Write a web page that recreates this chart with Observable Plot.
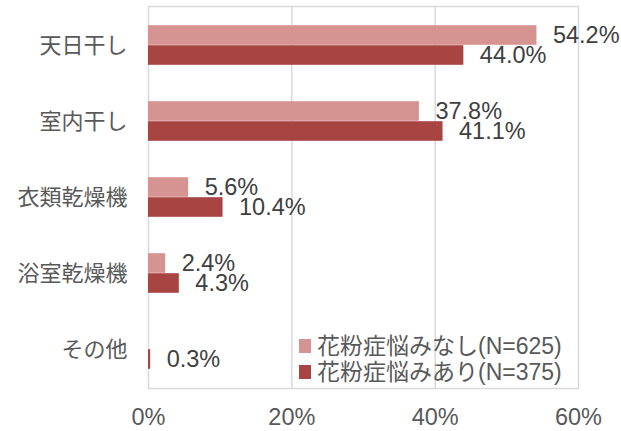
<!DOCTYPE html>
<html><head><meta charset="utf-8">
<script src="https://cdn.jsdelivr.net/npm/d3@7"></script>
<script src="https://cdn.jsdelivr.net/npm/@observablehq/plot@0.6"></script>
<style>
body{margin:0;background:#fff;}
#wrap{position:relative;width:621px;height:431px;font-family:"Liberation Sans","Noto Sans CJK JP",sans-serif;}
.legend{position:absolute;left:299px;top:333px;font-size:23px;color:#595959;line-height:26px;}
.legend div{display:flex;align-items:center;white-space:nowrap;}
.legend span.sw{display:inline-block;width:12px;height:14px;margin-right:6px;}
</style></head>
<body><div id="wrap"></div>
<script>
const categories = ["天日干し","室内干し","衣類乾燥機","浴室乾燥機","その他"];
const seriesNames = ["花粉症悩みなし(N=625)","花粉症悩みあり(N=375)"];
const seriesColors = ["#d59391","#a84543"];
const valuesNone = [54.2, 37.8, 5.6, 2.4, null];
const valuesWith = [44.0, 41.1, 10.4, 4.3, 0.3];
const xTicks = [0, 20, 40, 60];

const rowsNone = categories.map((c,i)=>({cat:c, v:valuesNone[i]})).filter(d=>d.v!=null);
const rowsWith = categories.map((c,i)=>({cat:c, v:valuesWith[i]})).filter(d=>d.v!=null);

const W=621,H=431,mT=6,mB=43,mL=148,mR=43;
const bw=(H-mT-mB)/categories.length;
const barH=20;
const fontFam='"Liberation Sans","Noto Sans CJK JP",sans-serif';

const chart = Plot.plot({
  width:W,height:H,marginTop:mT,marginBottom:mB,marginLeft:mL,marginRight:mR,
  style:{fontFamily:fontFam,fontSize:"22px",color:"#595959",background:"#fff"},
  x:{domain:[0,60],ticks:xTicks,tickFormat:d=>d+"%",tickSize:0,tickPadding:20,label:null},
  y:{domain:categories,padding:0,tickSize:0,tickPadding:21,label:null},
  marks:[
    Plot.gridX(xTicks.filter(t=>t>0&&t<60),{stroke:"#d9d9d9",strokeOpacity:1,strokeWidth:1.5}),
    Plot.frame({stroke:"#d9d9d9",strokeWidth:1.5}),
    Plot.axisX({ticks:xTicks,tickFormat:d=>d+"%",tickSize:0,tickPadding:20,fontSize:23.5,fill:"#595959"}),
    Plot.axisY({tickSize:0,tickPadding:21,fontSize:22,fill:"#595959"}),
    Plot.barX(rowsNone,{x:"v",y:"cat",fill:seriesColors[0],insetTop:bw/2-barH,insetBottom:bw/2}),
    Plot.barX(rowsWith,{x:"v",y:"cat",fill:seriesColors[1],insetTop:bw/2,insetBottom:bw/2-barH}),
    Plot.text(rowsNone,{x:"v",y:"cat",text:d=>d.v.toFixed(1)+"%",dx:16,dy:-10,textAnchor:"start",fill:"#404040",fontSize:23.5}),
    Plot.text(rowsWith,{x:"v",y:"cat",text:d=>d.v.toFixed(1)+"%",dx:16,dy:10,textAnchor:"start",fill:"#404040",fontSize:23.5})
  ]
});
const wrap=document.getElementById("wrap");
wrap.appendChild(chart);
const lg=document.createElement("div");lg.className="legend";
seriesNames.forEach((n,i)=>{const r=document.createElement("div");const s=document.createElement("span");s.className="sw";s.style.background=seriesColors[i];r.appendChild(s);r.appendChild(document.createTextNode(n));lg.appendChild(r);});
wrap.appendChild(lg);
</script></body></html>
